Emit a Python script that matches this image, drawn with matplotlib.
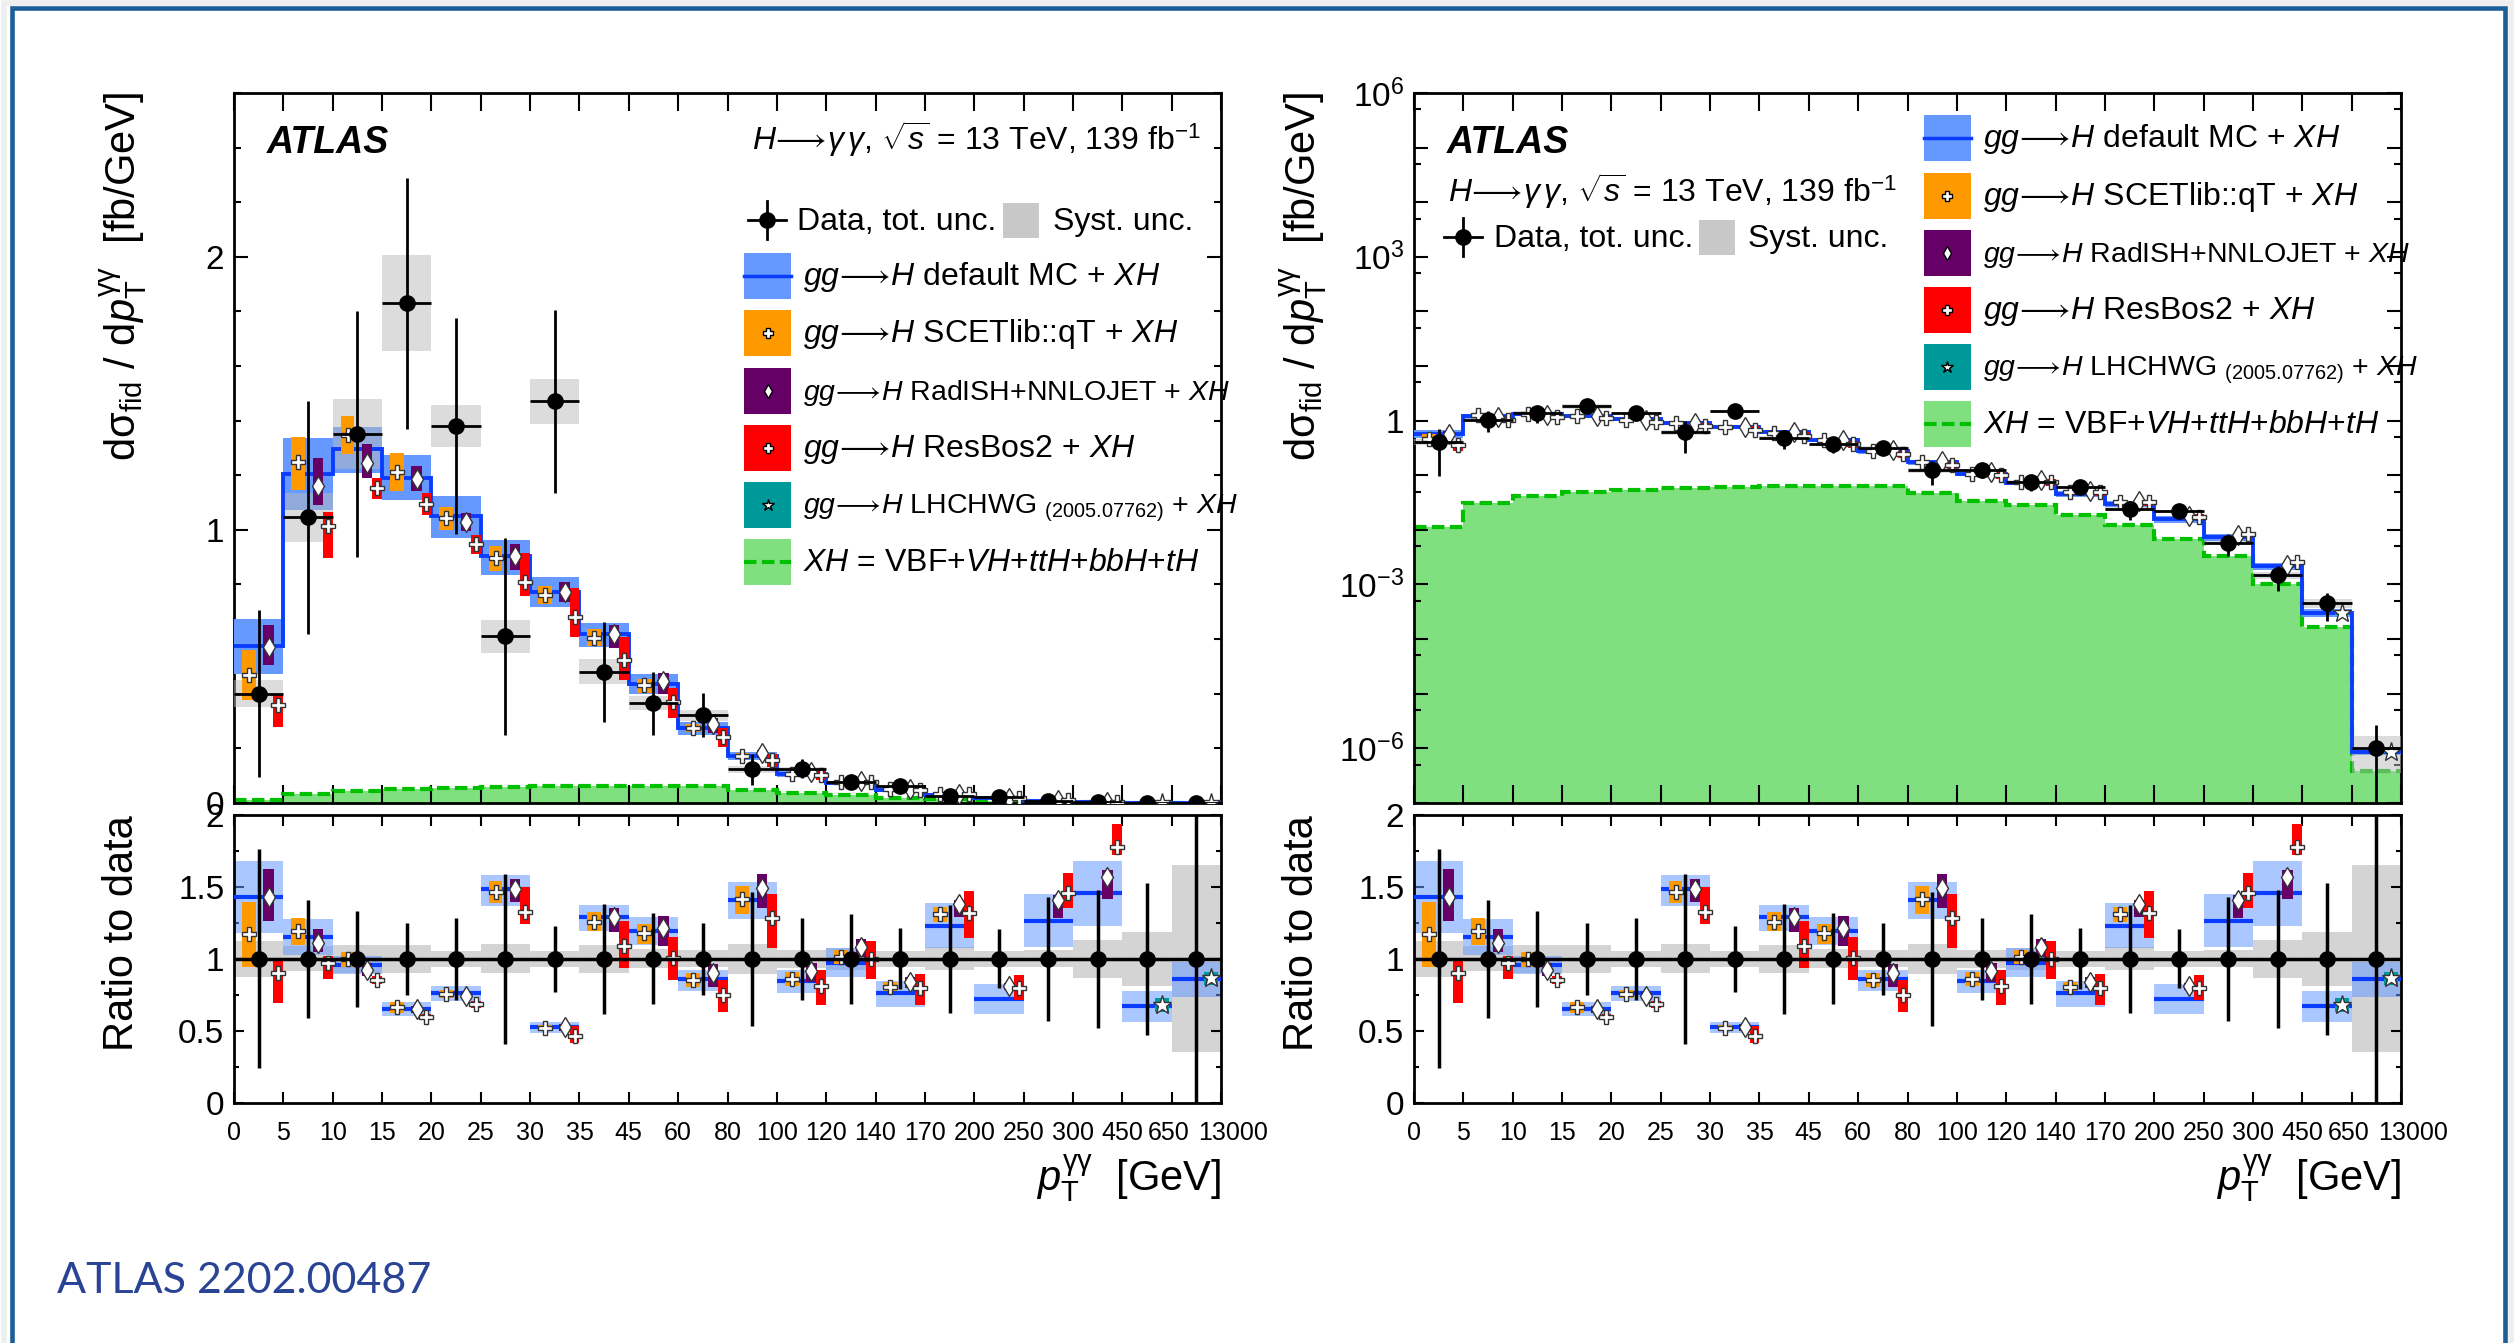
import numpy as np
import matplotlib
matplotlib.use("Agg")
import matplotlib.pyplot as plt
import matplotlib.transforms as mtransforms
from matplotlib.patches import Rectangle
from matplotlib.lines import Line2D
from matplotlib.ticker import FixedLocator, MultipleLocator, NullFormatter, FixedFormatter

W, H = 2515, 1343

plt.rcParams['font.family'] = ['Liberation Sans', 'DejaVu Sans']
plt.rcParams['mathtext.fontset'] = 'custom'
plt.rcParams['mathtext.rm'] = 'Liberation Sans'
plt.rcParams['mathtext.it'] = 'Liberation Sans:italic'
plt.rcParams['mathtext.bf'] = 'Liberation Sans:bold'
plt.rcParams['mathtext.sf'] = 'Liberation Sans'

# pT(gamma gamma) bin edges [GeV]; every bin is drawn with the same width
edge_labels = ["0", "5", "10", "15", "20", "25", "30", "35", "45", "60", "80",
               "100", "120", "140", "170", "200", "250", "300", "450", "650", "13000"]

# measured dsigma/dpT [fb/GeV], relative total and systematic uncertainties
data = [0.40, 1.045, 1.35, 1.83, 1.38, 0.61, 1.47, 0.48, 0.365, 0.32,
        0.122, 0.124, 0.0743, 0.0606, 0.0241, 0.0218, 0.00575, 0.00146, 0.000446, 1.0e-6]
data_tot = [0.761, 0.408, 0.333, 0.251, 0.286, 0.591, 0.228, 0.382, 0.316, 0.251,
            0.467, 0.284, 0.313, 0.212, 0.374, 0.205, 0.429, 0.481, 0.527, 1.6]
data_syst = [0.125, 0.087, 0.095, 0.096, 0.055, 0.10, 0.055, 0.096, 0.066, 0.06,
             0.105, 0.064, 0.075, 0.056, 0.08, 0.056, 0.06, 0.13, 0.19, 0.65]

# predictions as ratio to data (central, band low, band high)
default_r = [1.432, 1.154, 0.959, 0.651, 0.760, 1.483, 0.524, 1.289, 1.194, 0.860,
             1.409, 0.848, 0.973, 0.760, 1.231, 0.718, 1.265, 1.455, 0.674, 0.857]
default_lo = [1.18, 1.027, 0.895, 0.605, 0.704, 1.367, 0.487, 1.191, 1.096, 0.778,
              1.275, 0.765, 0.875, 0.667, 1.078, 0.614, 1.085, 1.228, 0.563, 0.737]
default_hi = [1.68, 1.277, 1.02, 0.697, 0.813, 1.58, 0.563, 1.372, 1.289, 0.925,
              1.532, 0.922, 1.072, 0.846, 1.39, 0.825, 1.451, 1.68, 0.776, 0.976]

scet_r = [1.17, 1.194, 0.997, 0.663, 0.755, 1.467, 0.517, 1.258, 1.182, 0.853,
          1.414, 0.86, 1.015, 0.806, 1.309]
scet_lo = [0.941, 1.098, 0.946, 0.625, 0.725, 1.39, 0.495, 1.193, 1.103, 0.806,
           1.312, 0.811, 0.962, 0.775, 1.258]
scet_hi = [1.397, 1.282, 1.05, 0.70, 0.785, 1.541, 0.54, 1.323, 1.242, 0.904,
           1.506, 0.911, 1.061, 0.84, 1.363]

radish_r = [1.428, 1.112, 0.922, 0.649, 0.744, 1.483, 0.524, 1.289, 1.217, 0.899,
            1.49, 0.918, 1.085, 0.841, 1.381, 0.811, 1.409, 1.571]
radish_lo = [1.265, 1.045, 0.88, 0.625, 0.72, 1.397, 0.50, 1.184, 1.092, 0.802,
             1.356, 0.841, 1.015, 0.80, 1.293, 0.785, 1.282, 1.414]
radish_hi = [1.625, 1.207, 0.973, 0.675, 0.77, 1.555, 0.55, 1.356, 1.298, 0.964,
             1.587, 0.969, 1.138, 0.875, 1.409, 0.835, 1.444, 1.618]

resbos_r = [0.899, 0.969, 0.853, 0.598, 0.686, 1.328, 0.463, 1.089, 1.008, 0.749,
            1.282, 0.813, 0.997, 0.795, 1.316, 0.80, 1.455, 1.78]
resbos_lo = [0.69, 0.857, 0.825, 0.575, 0.66, 1.242, 0.413, 0.939, 0.853, 0.633,
             1.073, 0.679, 0.86, 0.679, 1.147, 0.714, 1.351, 1.722]
resbos_hi = [0.99, 1.02, 0.88, 0.62, 0.71, 1.497, 0.535, 1.265, 1.149, 0.853,
             1.451, 0.922, 1.124, 0.892, 1.472, 0.888, 1.6, 1.937]

lhchwg_bins = [18, 19]
lhchwg_r = [0.679, 0.864]
lhchwg_lo = [0.628, 0.82]
lhchwg_hi = [0.725, 0.91]

# VBF+VH+ttH+bbH+tH contribution [fb/GeV]
xh = [0.0113, 0.0308, 0.0419, 0.0493, 0.0536, 0.0581, 0.0606, 0.063, 0.063, 0.063,
      0.0464, 0.0341, 0.0278, 0.0185, 0.0123, 0.00678, 0.00331, 0.00101, 0.000167, 3.8e-7]

C_BAND = '#6699ff'
C_LINE = '#0a3cff'
C_ORANGE = '#ff9900'
C_PURPLE = '#660066'
C_RED = '#ff0000'
C_TEAL = '#009999'
C_GREEN = '#80e080'
C_GREEN_LINE = '#00c000'

nb = len(data)
edges = np.arange(nb + 1)
xc = np.arange(nb) + 0.5
dat = np.array(data)
tot = np.array(data_tot)
syst = np.array(data_syst)

# (bins, ratio, lo, hi, offset in bin, box width, colour, marker, marker size)
preds = [
    (np.arange(len(scet_r)), scet_r, scet_lo, scet_hi, 0.30, 0.28, C_ORANGE, 'P', 10.5),
    (np.arange(len(radish_r)), radish_r, radish_lo, radish_hi, 0.70, 0.21, C_PURPLE, 'd', 10.5),
    (np.arange(len(resbos_r)), resbos_r, resbos_lo, resbos_hi, 0.90, 0.20, C_RED, 'P', 10.5),
    (np.array(lhchwg_bins), lhchwg_r, lhchwg_lo, lhchwg_hi, 0.80, 0.28, C_TEAL, '*', 14),
]


def px(x, y):
    return x / W, 1 - y / H


def draw_main(ax, log):
    base = 1e-7 if log else 0
    ax.stairs(xh, edges, baseline=base, fill=True, color=C_GREEN, lw=0, zorder=1)
    ax.stairs(xh, edges, baseline=None, color=C_GREEN_LINE, lw=3,
              ls=(0, (3, 1.3)), zorder=2)
    lo = np.array(default_lo) * dat
    hi = np.array(default_hi) * dat
    ax.bar(xc, hi - lo, bottom=lo, width=1, color=C_BAND, lw=0, zorder=3)
    ax.bar(xc, 2 * syst * dat, bottom=dat * (1 - syst), width=1,
           color='#bbbbbb', alpha=0.5, lw=0, zorder=4)
    ax.stairs(np.array(default_r) * dat, edges, baseline=None, color=C_LINE, lw=2.8, zorder=5)
    for bins, r, plo, phi, off, w, col, mk, ms in preds:
        d = dat[bins]
        blo = np.array(plo) * d
        bhi = np.array(phi) * d
        ax.bar(bins + off, bhi - blo, bottom=blo, width=w, color=col, lw=0, zorder=6)
        ax.plot(bins + off, np.array(r) * d, ls='none', marker=mk, ms=ms,
                mfc='white', mec='#333333', mew=1, zorder=7)
    ylo = np.where(tot < 1, tot * dat, dat * 0.999)
    ax.errorbar(xc, dat, yerr=[ylo, tot * dat], xerr=0.5, fmt='o', color='black',
                ms=11, elinewidth=2, capsize=0, zorder=9)
    ax.set_xlim(0, nb)
    ax.set_xticks(edges)
    ax.set_xticklabels([])
    ax.tick_params(axis='x', which='major', direction='in', length=13, width=1.5,
                   top=True, bottom=True)
    if log:
        ax.set_yscale('log')
        ax.set_ylim(1e-7, 1e6)
        dec = np.arange(-7, 7)
        ax.yaxis.set_major_locator(FixedLocator(10.0 ** dec))
        labs = []
        for k in dec:
            if k == 0:
                labs.append('1')
            elif k % 3 == 0:
                labs.append(r'$10^{%d}$' % k)
            else:
                labs.append('')
        ax.yaxis.set_major_formatter(FixedFormatter(labs))
        ax.yaxis.set_minor_locator(FixedLocator(5 * 10.0 ** dec))
        ax.yaxis.set_minor_formatter(NullFormatter())
    else:
        ax.set_ylim(0, 2.6)
        ax.set_yticks([0, 1, 2])
        ax.set_yticklabels(['0', '1', '2'])
        ax.yaxis.set_minor_locator(MultipleLocator(0.2))
    ax.tick_params(axis='y', which='major', direction='in', length=10, width=1.5,
                   left=True, right=True, labelsize=24, pad=7)
    ax.tick_params(axis='y', which='minor', direction='in', length=5, width=1.5,
                   left=True, right=True)
    for s in ax.spines.values():
        s.set_linewidth(2)


def draw_ratio(ax):
    ax.bar(xc, 2 * syst, bottom=1 - syst, width=1, color='#d4d4d4', lw=0, zorder=1)
    ax.bar(xc, np.array(default_hi) - np.array(default_lo), bottom=default_lo,
           width=1, color=C_BAND, alpha=0.55, lw=0, zorder=2)
    ax.hlines(default_r, edges[:-1], edges[1:], color=C_LINE, lw=3, zorder=3)
    for bins, r, plo, phi, off, w, col, mk, ms in preds:
        ax.bar(bins + off, np.array(phi) - np.array(plo), bottom=plo, width=w,
               color=col, lw=0, zorder=5)
        ax.plot(bins + off, r, ls='none', marker=mk, ms=ms, mfc='white',
                mec='#333333', mew=1, zorder=6)
    ax.axhline(1, color='black', lw=2, zorder=8)
    ax.errorbar(xc, np.ones(nb), yerr=tot, xerr=0.5, fmt='o', color='black',
                ms=11, elinewidth=2.5, capsize=0, zorder=9)
    ax.set_xlim(0, nb)
    ax.set_ylim(0, 2)
    ax.set_xticks(edges)
    ax.set_xticklabels(edge_labels, fontsize=18)
    ax.tick_params(axis='x', which='major', direction='in', length=8, width=1.5,
                   top=True, bottom=True, pad=13)
    # the last two labels are crowded: nudge them apart
    tl = ax.get_xticklabels()
    tl[-1].set_transform(tl[-1].get_transform() +
                         mtransforms.ScaledTranslation(0.12, 0, fig.dpi_scale_trans))
    tl[-2].set_transform(tl[-2].get_transform() +
                         mtransforms.ScaledTranslation(-0.03, 0, fig.dpi_scale_trans))
    ax.set_yticks([0, 0.5, 1, 1.5, 2])
    ax.set_yticklabels(['0', '0.5', '1', '1.5', '2'])
    ax.yaxis.set_minor_locator(MultipleLocator(0.25))
    ax.tick_params(axis='y', which='major', direction='in', length=7, width=1.5,
                   left=True, right=True, labelsize=24, pad=7)
    ax.tick_params(axis='y', which='minor', direction='in', length=3.5, width=1.5,
                   left=True, right=True)
    for s in ax.spines.values():
        s.set_linewidth(2)


def legend_box(fig, x0, yc, color, marker=None, ms=7, line=None):
    bw, bh = 47, 46
    fig.add_artist(Rectangle(px(x0, yc + bh / 2), bw / W, bh / H,
                             transform=fig.transFigure, color=color, lw=0))
    if line is not None:
        fig.add_artist(Line2D([x0 / W, (x0 + bw) / W], [1 - yc / H] * 2,
                              transform=fig.transFigure, **line))
    if marker is not None:
        fig.add_artist(Line2D([(x0 + bw / 2) / W], [1 - yc / H], transform=fig.transFigure,
                              marker=marker, ms=ms, mfc='white', mec='black', mew=1, ls='none'))


def data_legend(fig, xm, yc, xt, xg, xs):
    fig.add_artist(Line2D([(xm - 19) / W, (xm + 19) / W], [1 - yc / H] * 2,
                          transform=fig.transFigure, color='black', lw=2))
    fig.add_artist(Line2D([xm / W] * 2, [1 - (yc - 19) / H, 1 - (yc + 19) / H],
                          transform=fig.transFigure, color='black', lw=2))
    fig.add_artist(Line2D([xm / W], [1 - yc / H], transform=fig.transFigure,
                          marker='o', ms=11, color='black', ls='none'))
    fig.text(*px(xt, yc + 10), "Data, tot. unc.", fontsize=23, va='baseline')
    fig.add_artist(Rectangle(px(xg, yc + 18), 36 / W, 35 / H, transform=fig.transFigure,
                             color='#c8c8c8', lw=0))
    fig.text(*px(xs, yc + 10), "Syst. unc.", fontsize=23, va='baseline')


arrow = r"$gg\!\longrightarrow\!H$"
# (box colour, marker, line, label, font size)
legend_rows = [
    (C_BAND, None, dict(color=C_LINE, lw=2.5), arrow + " default MC + $XH$", 23),
    (C_ORANGE, 'P', None, arrow + " SCETlib::qT + $XH$", 23),
    (C_PURPLE, 'd', None, arrow + " RadISH+NNLOJET + $XH$", 20.5),
    (C_RED, 'P', None, arrow + " ResBos2 + $XH$", 23),
    (C_TEAL, '*', None, arrow + r" LHCHWG ${}_{\mathrm{(2005.07762)}}$ + $XH$", 20.5),
    (C_GREEN, None, dict(color=C_GREEN_LINE, lw=3, ls=(0, (3, 1.3))),
     "$XH$ = VBF+$VH$+$ttH$+$bbH$+$tH$", 23),
]

title = r"$H\!\longrightarrow\!\gamma\,\gamma$, $\sqrt{s}$ = 13 TeV, 139 fb$^{\mathrm{-1}}$"
ylab = r"d$\mathrm{\sigma}_{\mathrm{fid}}$ / d$p_{\mathrm{T}}^{\mathrm{\gamma\gamma}}$  [fb/GeV]"
xlab = r"$p_{\mathrm{T}}^{\mathrm{\gamma\gamma}}$  [GeV]"

fig = plt.figure(figsize=(W / 100, H / 100), dpi=100)

for i, log in enumerate([False, True]):
    dx = 1180 * i
    ax_m = fig.add_axes([(234 + dx) / W, 1 - 802.7 / H, 987 / W, 709.7 / H])
    ax_r = fig.add_axes([(234 + dx) / W, 1 - 1102.7 / H, 987 / W, 287.7 / H])
    draw_main(ax_m, log)
    draw_ratio(ax_r)

    fig.text(*px(267 + dx, 153), "ATLAS", fontsize=27, fontweight='bold',
             style='italic', va='baseline')
    fig.text(*px(123 + dx, 92), ylab, rotation=90, ha='center', va='top', fontsize=30)
    fig.text(*px(122 + dx, 815), "Ratio to data", rotation=90, ha='center',
             va='top', fontsize=30)
    fig.text(*px(1221 + dx, 1190), xlab, ha='right', va='baseline', fontsize=30)

    if not log:
        fig.text(*px(752, 150), title, fontsize=23, va='baseline')
        data_legend(fig, 767, 220, 797, 1003, 1053)
        ys = [276, 333, 391, 448, 505, 562]
        xb, xt = 744, 803
    else:
        fig.text(*px(1448, 202), title, fontsize=23, va='baseline')
        data_legend(fig, 1463, 237, 1494, 1699, 1748)
        ys = [138, 196, 253, 310, 367, 424]
        xb, xt = 1924, 1983
    for (col, mk, line, lab, fs), y in zip(legend_rows, ys):
        legend_box(fig, xb, y, col, marker=mk, ms=9 if mk == '*' else 7, line=line)
        fig.text(*px(xt, y + 9), lab, fontsize=fs, va='baseline')

fig.text(*px(57, 1293), "ATLAS 2202.00487", fontsize=31, color='#2a4495',
         family=['Lato', 'DejaVu Sans'], va='baseline')

# page frame
fig.add_artist(Rectangle((4 / W, -0.1), (2511 - 4) / W, 1.1 - 3 / H, fill=False,
                         ec='#eeeeee', lw=4, transform=fig.transFigure))
fig.add_artist(Rectangle((11.7 / W, -0.1), (2505 - 11.7) / W, 1.1 - 8.5 / H, fill=False,
                         ec='#1b5e98', lw=3.3, transform=fig.transFigure))

fig.savefig("out.png", dpi=100)
